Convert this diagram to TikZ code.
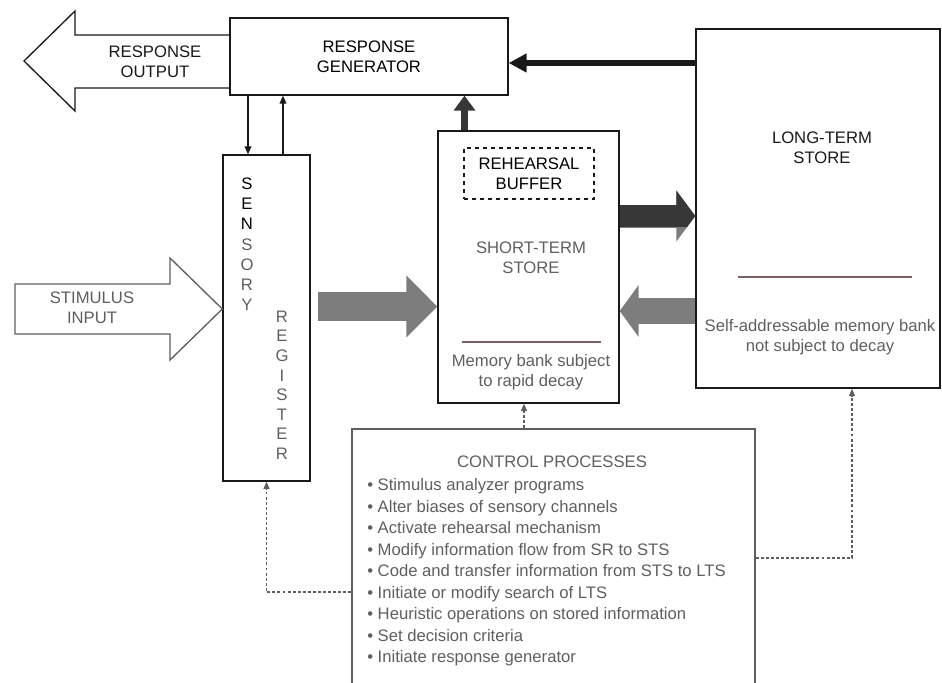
\documentclass[tikz,border=0pt]{standalone}
\usepackage{fontspec}
\setmainfont{Liberation Sans}
\usetikzlibrary{arrows.meta}
\definecolor{inkdark}{RGB}{25,25,25}
\definecolor{inkgray}{RGB}{95,95,95}
\definecolor{flowgray}{RGB}{125,125,125}
\definecolor{flowdark}{RGB}{55,55,55}
\definecolor{rulered}{RGB}{125,95,100}

\begin{document}
\begin{tikzpicture}[x=0.75pt,y=0.75pt,yscale=-1,
  box/.style={draw=inkdark,line width=1pt,inner sep=0pt,align=center},
  txt/.style={inner sep=0pt,align=center,font=\fontsize{12.5}{15}\selectfont},
  bigflow/.style={line width=#1},
  ctrl/.style={draw=inkgray,line width=0.9pt,dash pattern=on 2.2pt off 1.6pt,
    -{Triangle[length=5.5pt,width=4.5pt]}}]
\useasboundingbox (0,0) rectangle (942,682);
\clip (0,0) rectangle (942,682);

%Boxes
\node [box,txt,minimum width=208.5pt,minimum height=57.75pt] (rg) at (369,56.5) {RESPONSE\\GENERATOR};
\node [box,minimum width=65.25pt,minimum height=244.5pt] (sr) at (266.5,318) {};
\node [box,minimum width=135.75pt,minimum height=204pt] (sts) at (528.5,267) {};
\node [box,txt,dashed,minimum width=97.5pt,minimum height=38.25pt] (rb) at (529,173.5) {REHEARSAL\\BUFFER};
\node [box,minimum width=183pt,minimum height=269.25pt] (lts) at (818,208.5) {};
\node [box,draw=inkgray,minimum width=302.25pt,minimum height=218.25pt] (cp) at (553.5,574.5) {};

%Hollow arrows
\draw [draw=inkdark,line width=1pt,line join=miter] (rg.west |- 0,35) -- (75,35) -- (75,11) -- (24,61) -- (75,111) -- (75,88) -- (rg.west |- 0,88) ;
\draw [draw=inkgray,line width=1pt,line join=miter] (15,284) -- (170,284) -- (170,258) -- (sr.west |- 0,309) -- (170,360) -- (170,334) -- (15,334) -- cycle ;

% Text Node
\node [txt,text=inkdark] (outtxt) at (155,62) {RESPONSE\\OUTPUT};
% Text Node
\node [txt,text=inkgray] (intxt) at (92,308) {STIMULUS\\INPUT};
% Text Node
\node [txt,anchor=north,font=\fontsize{12.5}{15.15}\selectfont] (sensory) at (247,177.5) {S\\E\\N\\\textcolor{inkgray}{S}\\\textcolor{inkgray}{O}\\\textcolor{inkgray}{R}\\\textcolor{inkgray}{Y}};
% Text Node
\node [txt,anchor=north,text=inkgray,font=\fontsize{12.5}{14.7}\selectfont] (register) at (282,310.5) {R\\E\\G\\I\\S\\T\\E\\R};
% Text Node
\node [txt,text=inkgray] (ststxt) at (531,258) {SHORT-TERM\\STORE};
\draw [rulered,line width=0.9pt] (462,342) -- (601,342) ;
\node [txt,text=inkgray] (stsnote) at (531,372) {Memory bank subject\\to rapid decay};
% Text Node
\node [txt,text=inkdark] (ltstxt) at (822,148) {LONG-TERM\\STORE};
\draw [rulered,line width=0.9pt] (738,277) -- (912,277) ;
\node [txt,text=inkgray] (ltsnote) at (820,337) {Self-addressable memory bank\\not subject to decay};
% Text Node
\node [txt,text=inkgray] (cptitle) at (552,462) {CONTROL PROCESSES};
\node [txt,text=inkgray,anchor=north west,align=left,font=\fontsize{12.5}{16.1}\selectfont] (cplist) at (367,478.5) {%
\textbullet\ Stimulus analyzer programs\\
\textbullet\ Alter biases of sensory channels\\
\textbullet\ Activate rehearsal mechanism\\
\textbullet\ Modify information flow from SR to STS\\
\textbullet\ Code and transfer information from STS to LTS\\
\textbullet\ Initiate or modify search of LTS\\
\textbullet\ Heuristic operations on stored information\\
\textbullet\ Set decision criteria\\
\textbullet\ Initiate response generator};

%Flows between stores
\draw [bigflow=4.5pt,inkdark,-{Triangle[length=13.5pt,width=13.5pt]}] (lts.west |- 0,63) -- (rg.east |- 0,63) ;
\draw [bigflow=5.25pt,flowdark,-{Triangle[length=11.25pt,width=15.75pt]}] (464.5,0 |- sts.north) -- (464.5,0 |- rg.south) ;
\draw [line width=1.2pt,inkdark,-{Triangle[length=6pt,width=5pt]}] (248,0 |- rg.south) -- (248,0 |- sr.north) ;
\draw [line width=1.2pt,inkdark,-{Triangle[length=6pt,width=5pt]}] (283,0 |- sr.north) -- (283,0 |- rg.south) ;
\draw [bigflow=21.75pt,flowgray,shorten <=5.25pt,-{Triangle[length=23.25pt,width=45pt]}] (sr.east |- 0,306.5) -- (sts.west |- 0,306.5) ;
\draw [bigflow=17.25pt,flowgray,-{Triangle[length=14.25pt,width=37.5pt]}] (sts.east |- 0,216) -- (lts.west |- 0,216) ;
\begin{scope}
\clip (600,150) rectangle (720,226.5);
\draw [bigflow=17.25pt,flowdark,-{Triangle[length=14.25pt,width=37.5pt]}] (sts.east |- 0,216) -- (lts.west |- 0,216) ;
\end{scope}
\draw [bigflow=19.5pt,flowgray,-{Triangle[length=14.25pt,width=38.25pt]}] (lts.west |- 0,311) -- (sts.east |- 0,311) ;

%Control lines
\draw [ctrl] (cp.west |- 0,592) -- (266.5,592) -- (sr.south) ;
\draw [ctrl] (524,0 |- cp.north) -- (524,0 |- sts.south) ;
\draw [ctrl] (cp.east |- 0,558) -- (852,558) -- (852,0 |- lts.south) ;

\end{tikzpicture}
\end{document}
